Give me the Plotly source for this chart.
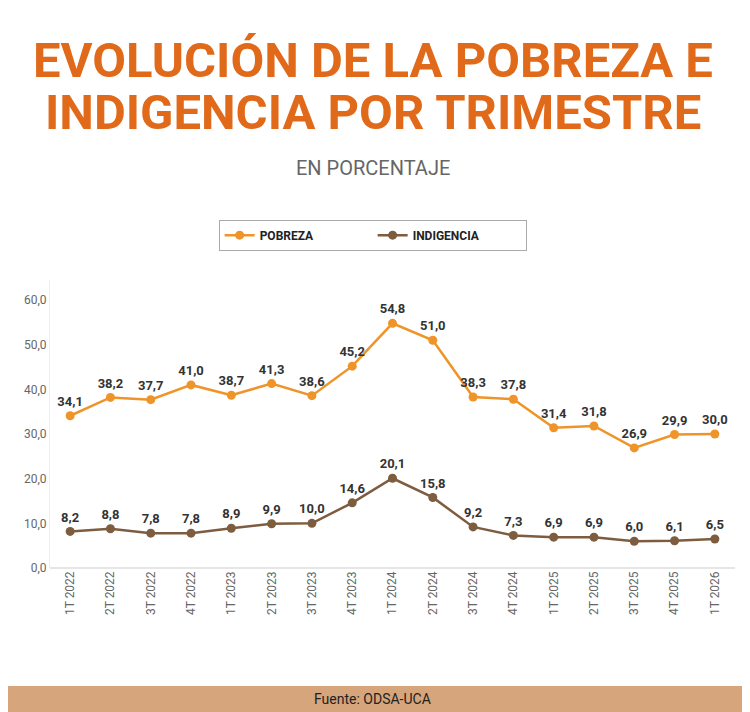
import plotly.graph_objects as go

periodos = ["1T 2022", "2T 2022", "3T 2022", "4T 2022", "1T 2023", "2T 2023", "3T 2023", "4T 2023",
            "1T 2024", "2T 2024", "3T 2024", "4T 2024", "1T 2025", "2T 2025", "3T 2025", "4T 2025", "1T 2026"]
pobreza = [34.1, 38.2, 37.7, 41.0, 38.7, 41.3, 38.6, 45.2, 54.8, 51.0, 38.3, 37.8, 31.4, 31.8, 26.9, 29.9, 30.0]
indigencia = [8.2, 8.8, 7.8, 7.8, 8.9, 9.9, 10.0, 14.6, 20.1, 15.8, 9.2, 7.3, 6.9, 6.9, 6.0, 6.1, 6.5]

def fmt(v):
    return f"{v:.1f}".replace(".", ",")

fig = go.Figure()
for name, vals, color in [("POBREZA", pobreza, "#ef9428"), ("INDIGENCIA", indigencia, "#7d5c3f")]:
    fig.add_trace(go.Scatter(
        x=periodos, y=vals, name=name, mode="lines+markers+text",
        line=dict(color=color, width=2.5), marker=dict(size=9, color=color),
        text=[fmt(v) for v in vals], textposition="top center",
        textfont=dict(size=13, color="#333333", family="Roboto", weight="bold"),
        cliponaxis=False))

fig.update_layout(
    width=750, height=712, paper_bgcolor="white", plot_bgcolor="white",
    margin=dict(l=42, r=23, t=272, b=152, autoexpand=False),
    font=dict(family="Roboto", color="#555555"),
    showlegend=True,
    legend=dict(orientation="h", x=0.471, xanchor="center", y=0.681, yanchor="middle",
                yref="container", bordercolor="#aaaaaa", borderwidth=1,
                entrywidthmode="pixels", entrywidth=108,
                font=dict(size=12, color="#222222", weight="bold")),
    xaxis=dict(tickangle=-90, tickfont=dict(size=12, color="#666666"), showline=False,
               range=[-0.5, 16.5], showgrid=False, ticks="", automargin=False),
    yaxis=dict(range=[0, 64.5], tickvals=[0, 10, 20, 30, 40, 50, 60],
               ticktext=[fmt(v) for v in [0, 10, 20, 30, 40, 50, 60]],
               tickfont=dict(size=12, color="#666666"), showgrid=False, automargin=False,
               showline=True, linecolor="#eeeeee", zeroline=True, zerolinecolor="#e6e6e6",
               zerolinewidth=2),
)

for txt, shift in [("EVOLUCIÓN DE LA POBREZA E", 220), ("INDIGENCIA POR TRIMESTRE", 168)]:
    fig.add_annotation(text=txt, xref="paper", yref="paper", x=0.4715, y=1.0, yshift=shift,
                       xanchor="center", yanchor="middle", showarrow=False,
                       font=dict(family="Roboto", size=49, color="#e0691a", weight="bold"))
fig.add_annotation(text="EN PORCENTAJE", xref="paper", yref="paper", x=0.4715, y=1.0, yshift=112,
                   xanchor="center", yanchor="middle", showarrow=False,
                   font=dict(size=20, color="#666666"))
fig.add_shape(type="rect", xref="paper", yref="paper", x0=-50/685, x1=1.05,
              y0=-152/288, y1=-118/288, fillcolor="#d6a57c", line_width=0, layer="below")
fig.add_annotation(text="Fuente: ODSA-UCA", xref="paper", yref="paper", x=0.4715, y=-131/288,
                   xanchor="center", yanchor="middle", showarrow=False,
                   font=dict(size=14, color="#222222"))

fig.write_html("out.html")
